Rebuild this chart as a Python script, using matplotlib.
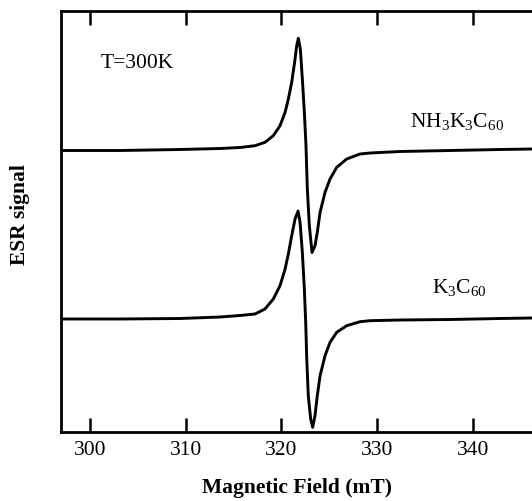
import matplotlib
matplotlib.use("Agg")
import matplotlib.pyplot as plt

# Magnetic field (mT) / ESR signal (arb. units) sample points
field_nh3 = [297.00, 303.16, 309.42, 313.60, 315.68, 317.25, 318.29, 319.16, 319.86,
             320.39, 320.73, 321.08, 321.43, 321.60, 321.77, 321.98, 322.19, 322.40,
             322.57, 322.71, 322.92, 323.20, 323.51, 323.75, 324.04, 324.56, 325.08,
             325.78, 326.82, 328.21, 329.25, 332.39, 337.61, 342.82, 346.16]
signal_nh3 = [281.5, 281.5, 282.5, 283.5, 284.5, 286.3, 289.7, 296.3, 306.3,
              319.7, 333.0, 349.7, 373.0, 386.3, 393.7, 383.0, 353.0, 319.7,
              286.3, 243.0, 206.3, 179.5, 186.3, 199.7, 219.7, 239.7, 253.0,
              264.7, 273.0, 278.0, 279.0, 280.5, 281.5, 282.5, 283.0]

field_k3 = [297.00, 303.16, 309.42, 313.60, 315.68, 317.25, 318.29, 319.16, 319.86,
            320.39, 320.73, 321.08, 321.43, 321.74, 321.95, 322.19, 322.40, 322.54,
            322.65, 322.81, 323.06, 323.27, 323.51, 323.75, 324.04, 324.56, 325.08,
            325.78, 326.82, 328.21, 329.25, 332.39, 337.61, 342.82, 346.16]
signal_k3 = [113.0, 113.0, 113.5, 115.0, 116.5, 118.0, 123.0, 133.0, 146.3,
             163.0, 178.0, 196.3, 213.0, 221.0, 209.7, 179.7, 143.0, 109.7,
             73.0, 36.3, 13.0, 4.7, 16.3, 36.3, 56.3, 76.3, 89.7,
             99.7, 106.3, 110.3, 111.3, 112.0, 112.5, 113.5, 114.0]

xticks = [300, 310, 320, 330, 340]
label_nh3 = r"NH$_3$K$_3$C$_{60}$"
label_k3 = r"K$_3$C$_{60}$"
temp_label = "T=300K"

plt.rcParams['font.family'] = ['Liberation Serif', 'DejaVu Serif']
plt.rcParams['mathtext.fontset'] = 'custom'
plt.rcParams['mathtext.rm'] = 'Liberation Serif'
plt.rcParams['mathtext.it'] = 'Liberation Serif'

fig = plt.figure(figsize=(5.32, 5.02), dpi=100)
ax = fig.add_axes([61/532, 1-433/502, 1-61/532, (433-12)/502])

ax.plot(field_nh3, signal_nh3, color='black', lw=2.1, solid_joinstyle='round')
ax.plot(field_k3, signal_k3, color='black', lw=2.1, solid_joinstyle='round')

ax.set_xlim(297.0, 346.16)
ax.set_ylim(0, 421)
ax.set_xticks(xticks)
ax.set_yticks([])
ax.tick_params(axis='x', direction='in', top=True, bottom=True, length=10, width=1.8,
               labelsize=15.5, pad=6)
for s in ['left', 'top', 'bottom']:
    ax.spines[s].set_linewidth(2.0)
ax.spines['right'].set_visible(False)

ax.text(301.1, 369, temp_label, fontsize=15.5, ha='left', va='center')
ax.text(333.4, 312, label_nh3, fontsize=15.5, ha='left', va='center')
ax.text(335.7, 146, label_k3, fontsize=15.5, ha='left', va='center')

ax.set_xlabel("Magnetic Field (mT)", fontsize=15.5, fontweight='bold', va='center')
ax.set_ylabel("ESR signal", fontsize=15.5, fontweight='bold', va='center')
ax.xaxis.set_label_coords((297-61)/471, (433-488)/421)
ax.yaxis.set_label_coords((20-61)/471, (433-215)/421)

fig.savefig("out.png", dpi=100)
